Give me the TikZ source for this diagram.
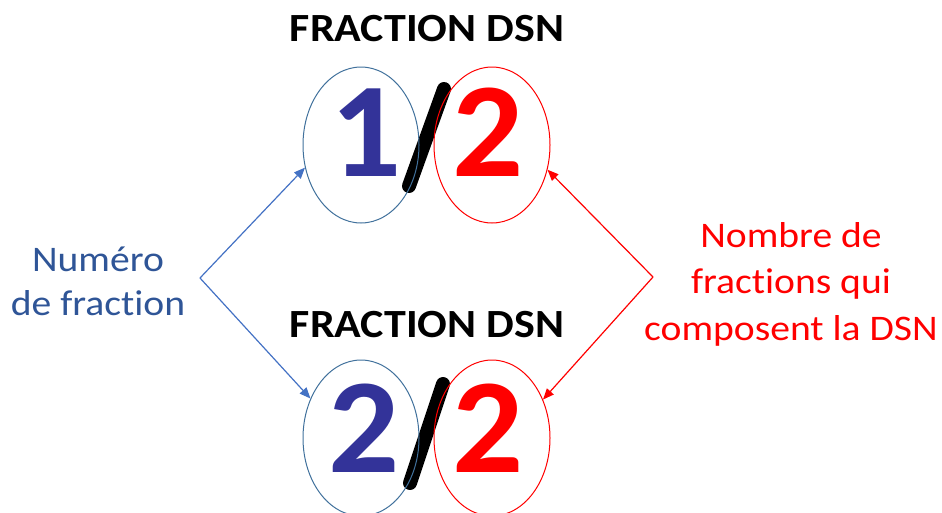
\documentclass[tikz,border=0pt]{standalone}
\usepackage{fontspec}
\setmainfont{Carlito}
\newfontfamily\lblfont[FakeStretch=1.1, Ligatures=NoCommon]{Carlito}
\newfontfamily\digfont[FakeStretch=1.04]{Carlito}
\usetikzlibrary{shapes.geometric,arrows.meta}
\definecolor{digblue}{RGB}{51,51,153}
\definecolor{txtblue}{RGB}{47,85,151}
\definecolor{arrblue}{RGB}{68,114,196}
\definecolor{ellblue}{RGB}{65,113,156}
\definecolor{myred}{RGB}{255,0,0}
\tikzset{
  title/.style={font=\lblfont\fontsize{40}{48}\selectfont\bfseries, anchor=base, inner sep=0},
  digit/.style={font=\digfont\fontsize{135}{160}\selectfont\bfseries, anchor=base, inner sep=0},
  lbl/.style={font=\lblfont\fontsize{36}{45}\selectfont, anchor=base, inner sep=0},
  oval/.style={ellipse, draw, line width=1pt, minimum width=116pt, minimum height=156pt, inner sep=0},
  slash/.style={line width=14pt, line cap=round, black},
  arr/.style={line width=1.2pt, -{Triangle[length=11pt,width=9pt]}},
}
\begin{document}
\begin{tikzpicture}[x=1pt,y=-1pt]
\useasboundingbox (0,0) rectangle (942,512);
% titles
\node[title] (t1) at (427,41) {FRACTION DSN};
\node[title] (t2) at (427,337) {FRACTION DSN};
% slashes
\coordinate (s1a) at (444,89);
\coordinate (s1b) at (409,186);
\coordinate (s2a) at (443,384);
\coordinate (s2b) at (410,483);
\draw[slash] (s1a) -- (s1b);
\draw[slash] (s2a) -- (s2b);
% digits
\node[digit, text=digblue] (d1) at (366,176) {1};
\node[digit, text=myred] (d2) at (488,176) {2};
\node[digit, text=digblue] (d3) at (364,472) {2};
\node[digit, text=myred] (d4) at (488,472) {2};
% ellipses
\node[oval, draw=ellblue] (e1) at (361,145) {};
\node[oval, draw=myred] (e2) at (492,145) {};
\node[oval, draw=ellblue] (e3) at (361,438) {};
\node[oval, draw=myred] (e4) at (492,438) {};
% left label
\node[lbl, text=txtblue] (l1) at (98,271) {Numéro};
\node[lbl, text=txtblue] (l2) at (98,315) {de fraction};
% right label
\node[lbl, text=myred] (r1) at (791,247) {Nombre de};
\node[lbl, text=myred] (r2) at (791,293) {fractions qui};
\node[lbl, text=myred] (r3) at (791,340) {composent la DSN};
% arrows
\coordinate (bl) at (200,278);
\coordinate (rl) at (653,277);
\draw[arr, arrblue] (bl) -- (e1.202);
\draw[arr, arrblue] (bl) -- (e3.142);
\draw[arr, myred] (rl) -- (e2.336);
\draw[arr, myred] (rl) -- (e4.37);
\end{tikzpicture}
\end{document}
